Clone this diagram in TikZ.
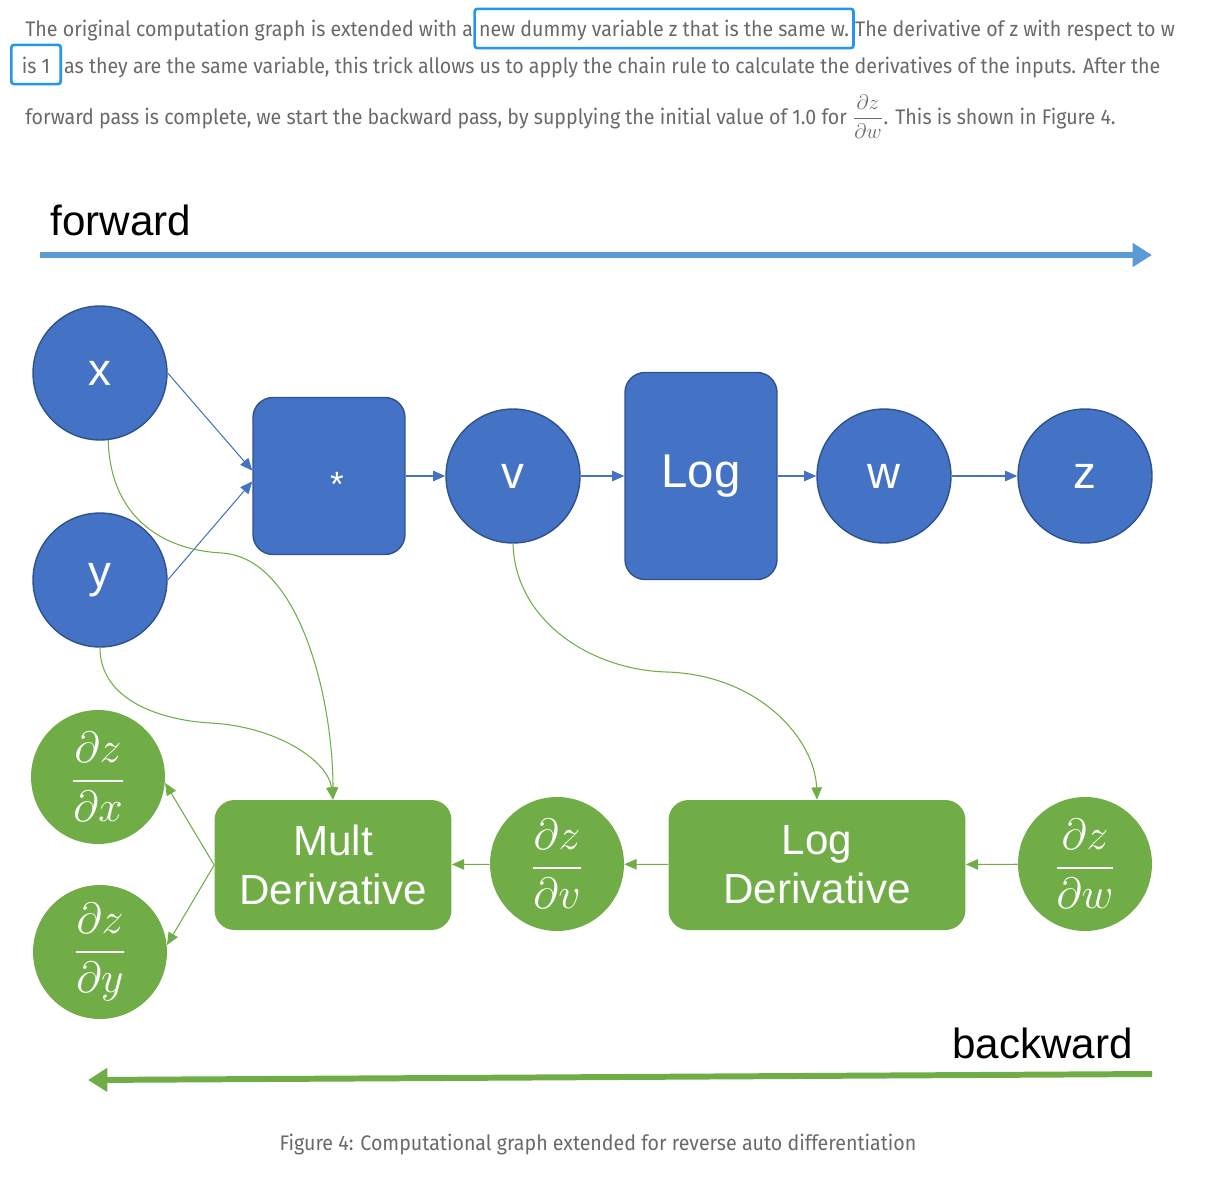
\documentclass[tikz,border=0pt]{standalone}
\usepackage{fontspec}
\usepackage{amsmath}
\usetikzlibrary{arrows.meta,positioning}
\newfontfamily\arialfont{Liberation Sans}
\newfontfamily\bodyfont{Fira Sans}[FakeStretch=0.93]
\definecolor{nodeblue}{RGB}{68,114,196}
\definecolor{lineblue}{RGB}{47,82,143}
\definecolor{fwdblue}{RGB}{91,155,213}
\definecolor{nodegreen}{RGB}{112,173,71}
\definecolor{hlblue}{RGB}{33,150,243}
\definecolor{textgray}{RGB}{105,105,105}

\tikzset{
  para/.style={anchor=base west, inner sep=0pt, text=textgray, font=\bodyfont\fontsize{12}{14}\selectfont},
  hl/.style={draw=hlblue, line width=1.5pt, rounded corners=1.5pt, inner xsep=2.5pt, inner ysep=0pt, text height=16pt, text depth=6.3pt},
  var/.style={circle, fill=nodeblue, draw=lineblue, line width=0.8pt, minimum size=2.68cm, inner sep=0pt, text=white, font=\arialfont\fontsize{26}{30}\selectfont},
  op/.style={rectangle, rounded corners=0.4cm, fill=nodeblue, draw=lineblue, line width=0.8pt, inner sep=0pt, text=white, font=\arialfont\fontsize{27}{30}\selectfont},
  grad/.style={circle, fill=nodegreen, minimum size=2.68cm, inner sep=0pt, text=white, font=\fontsize{25}{28}\selectfont},
  gop/.style={rectangle, rounded corners=0.4cm, fill=nodegreen, inner sep=0pt, align=center, text=white, font=\arialfont\fontsize{24}{28}\selectfont},
  fedge/.style={every edge/.append style={color=nodeblue, line width=0.6pt, -{Triangle[length=7pt,width=6pt]}}},
  bedge/.style={every edge/.append style={color=nodegreen, line width=0.6pt, -{Triangle[length=7pt,width=6pt]}}},
  curve/.style={color=nodegreen, line width=0.6pt, -{Triangle[length=7pt,width=6pt]}},
  lbl/.style={inner sep=0pt, font=\arialfont\fontsize{24}{26}\selectfont}
}

\begin{document}
\begin{tikzpicture}[x=0.02cm, y=-0.02cm]
  \useasboundingbox (0,0) rectangle (1216,1176);

  % text above the figure
  \node[para] (l1a) at (25,37) {The original computation graph is extended with a};
  \node[para,hl] (l1b) at (l1a.base east) {new dummy variable z that is the same w.};
  \node[para] (l1c) at (l1b.base east) {The derivative of z with respect to w};
  \node[para,hl,inner xsep=6pt] (l2a) at (10,73) {is 1};
  \node[para,xshift=1pt] (l2b) at (l2a.base east) {as they are the same variable, this trick allows us to apply the chain rule to calculate the derivatives of the inputs. After the};
  \node[para] (l3) at (25,124) {forward pass is complete, we start the backward pass, by supplying the initial value of 1.0 for $\dfrac{\partial z}{\partial w}$. This is shown in Figure 4.};

  % forward
  \node[lbl, anchor=base west] (fwdlbl) at (50,235) {forward};
  \coordinate (fwdtail) at (40,255);
  \coordinate (fwdtip) at (1152,255);
  \draw[draw=fwdblue, line width=3.4pt, -{Triangle[length=11pt,width=13pt]}] (fwdtail) -- (fwdtip);

  \node[var] (x) at (100,373) {x};
  \node[var] (y) at (100,580) {y};
  \node[op, minimum width=3.04cm, minimum height=3.14cm] (mul) at (329,476) {\fontsize{20}{20}\selectfont\raisebox{-0.58em}[0pt][0pt]{\hspace{9pt}*}};
  \node[var] (v) at (513,476) {v};
  \node[op, minimum width=3.04cm, minimum height=4.14cm] (log) at (701,476) {Log};
  \node[var] (w) at (884,476) {w};
  \node[var] (z) at (1085,476) {z};

  \path[fedge]
  (x.east) edge (mul.176)
  (y.east) edge (mul.184)
  (mul) edge (v)
  (v) edge (log)
  (log) edge (w)
  (w) edge (z);

  % backward
  \node[grad] (dx) at (98,777) {$\dfrac{\partial z}{\partial x}$};
  \node[grad] (dy) at (100,952) {$\dfrac{\partial z}{\partial y}$};
  \node[gop, minimum width=4.74cm, minimum height=2.6cm] (multd) at (333,865) {Mult\\Derivative};
  \node[grad] (dv) at (557,864) {$\dfrac{\partial z}{\partial v}$};
  \node[gop, minimum width=5.94cm, minimum height=2.6cm] (logd) at (817,865) {Log\\Derivative};
  \node[grad] (dw) at (1085,864) {$\dfrac{\partial z}{\partial w}$};

  \path[bedge]
  (dw) edge (logd)
  (logd) edge (dv)
  (dv) edge (multd)
  (multd.west) edge (dx.-5)
  (multd.west) edge (dy.6);

  \draw[curve] (x.-83) .. controls (110,515) and (160,550) .. (222,553)
    .. controls (300,558) and (333,700) .. (multd.north);
  \draw[curve] (y.south) .. controls (100,700) and (160,720) .. (210,723)
    .. controls (275,726) and (328,760) .. (multd.north);
  \draw[curve] (v.south) .. controls (515,620) and (590,670) .. (667,672)
    .. controls (760,675) and (815,740) .. (logd.north);

  \node[lbl, anchor=base east] (bwdlbl) at (1133,1058) {backward};
  \coordinate (bwdtail) at (1152,1074);
  \coordinate (bwdtip) at (88,1080);
  \draw[draw=nodegreen, line width=3.4pt, -{Triangle[length=11pt,width=13pt]}] (bwdtail) -- (bwdtip);

  \node[para, anchor=base] (caption) at (598,1150) {Figure 4: Computational graph extended for reverse auto differentiation};
\end{tikzpicture}
\end{document}
